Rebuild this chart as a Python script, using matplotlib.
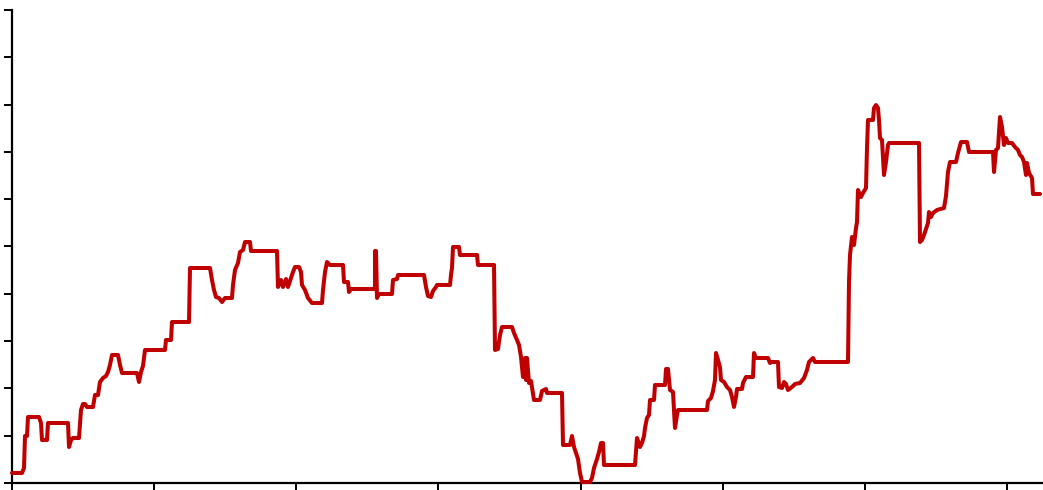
import numpy as np
import matplotlib.pyplot as plt

# traced path: x = day offset, y = level (both in chart units)
days = [0, 10, 12, 13, 15, 16, 27, 29, 30, 35, 36, 56, 57, 59, 61, 67, 69, 71, 73, 75,
        81, 83, 86, 88, 91, 94, 96, 98, 100, 106, 108, 110, 125, 127, 129, 131, 133, 153, 154, 159,
        160, 177, 178, 198, 200, 202, 204, 207, 210, 213, 220, 221, 223, 226, 228, 231, 233, 238, 239, 265,
        266, 269, 271, 274, 276, 279, 281, 283, 287, 289, 290, 293, 296, 300, 310, 311, 313, 315, 318, 331,
        332, 336, 337, 339, 363, 363, 364, 365, 367, 380, 381, 385, 386, 412, 414, 416, 419, 421, 424, 425,
        438, 439, 440, 441, 447, 448, 465, 466, 482, 483, 486, 488, 490, 500, 502, 505, 507, 509, 511, 513,
        514, 515, 517, 519, 522, 528, 530, 534, 535, 550, 551, 558, 560, 562, 564, 566, 568, 570, 578, 580,
        582, 585, 587, 589, 591, 592, 623, 625, 628, 630, 632, 633, 635, 637, 638, 642, 643, 653, 654, 656,
        658, 661, 663, 665, 666, 695, 696, 699, 701, 703, 704, 706, 708, 709, 712, 715, 718, 720, 722, 724,
        725, 730, 731, 734, 741, 742, 744, 756, 758, 760, 766, 767, 770, 772, 774, 776, 780, 783, 788, 792,
        795, 797, 801, 803, 836, 837, 838, 840, 842, 844, 845, 846, 849, 851, 854, 855, 856, 861, 862, 864,
        866, 867, 868, 870, 872, 874, 876, 877, 907, 908, 910, 912, 914, 916, 917, 919, 921, 925, 932, 934,
        936, 938, 944, 946, 949, 955, 957, 981, 982, 984, 986, 988, 990, 992, 994, 996, 1000, 1003, 1006, 1008,
        1010, 1012, 1014, 1015, 1017, 1020, 1021, 1028]
level = [10, 10, 15, 47, 47, 66, 66, 60, 43, 43, 60, 60, 36, 43, 45, 45, 73, 79, 79, 76,
         76, 88, 88, 101, 105, 107, 111, 118, 128, 128, 118, 110, 110, 101, 111, 117, 133, 133, 143, 143,
         161, 161, 215, 215, 203, 193, 186, 185, 181, 185, 185, 198, 213, 220, 231, 233, 241, 241, 232, 232,
         196, 203, 196, 204, 196, 205, 211, 216, 216, 211, 198, 193, 185, 180, 180, 193, 211, 221, 218, 218,
         201, 201, 191, 194, 194, 232, 232, 185, 189, 189, 203, 204, 208, 208, 196, 187, 186, 192, 196, 198,
         198, 208, 215, 236, 236, 228, 228, 218, 218, 133, 134, 148, 156, 156, 150, 143, 138, 126, 106, 125,
         103, 125, 100, 102, 83, 83, 92, 94, 90, 90, 38, 38, 47, 36, 30, 24, 10, 1, 1, 5,
         15, 24, 31, 40, 40, 18, 18, 45, 36, 40, 47, 55, 65, 68, 83, 83, 98, 98, 114, 114,
         93, 91, 55, 68, 73, 73, 82, 85, 92, 103, 130, 123, 116, 103, 101, 96, 93, 86, 76, 86,
         94, 94, 100, 106, 106, 130, 125, 125, 120, 121, 121, 96, 95, 101, 99, 93, 96, 99, 100, 105,
         113, 121, 125, 121, 121, 201, 228, 246, 238, 255, 261, 293, 286, 290, 295, 335, 363, 363, 375, 378,
         375, 363, 345, 343, 308, 321, 338, 340, 340, 241, 243, 248, 254, 260, 271, 266, 270, 273, 275, 287,
         311, 321, 321, 330, 341, 341, 331, 331, 311, 333, 335, 366, 356, 338, 345, 340, 340, 336, 333, 328,
         326, 321, 308, 320, 310, 305, 289, 289]

fig = plt.figure(figsize=(10.43, 4.9), dpi=100)
ax = fig.add_axes([12 / 1043, 7 / 490, 1031 / 1043, 473 / 490])

ax.plot(days, level, color='#c00000', linewidth=2.9, solid_joinstyle='round',
        solid_capstyle='round', clip_on=False, zorder=3)

ax.set_xlim(0, 1031)
ax.set_ylim(0, 473)
ax.set_xticks(np.linspace(0, 995, 8))
ax.set_yticks(np.linspace(0, 473, 11))
ax.tick_params(labelleft=False, labelbottom=False, direction='out',
               length=6, width=1.4, color='black')

for s in ['top', 'right']:
    ax.spines[s].set_visible(False)
for s in ['left', 'bottom']:
    ax.spines[s].set_linewidth(1.6)
    ax.spines[s].set_color('black')

plt.savefig('out.png', dpi=100)
